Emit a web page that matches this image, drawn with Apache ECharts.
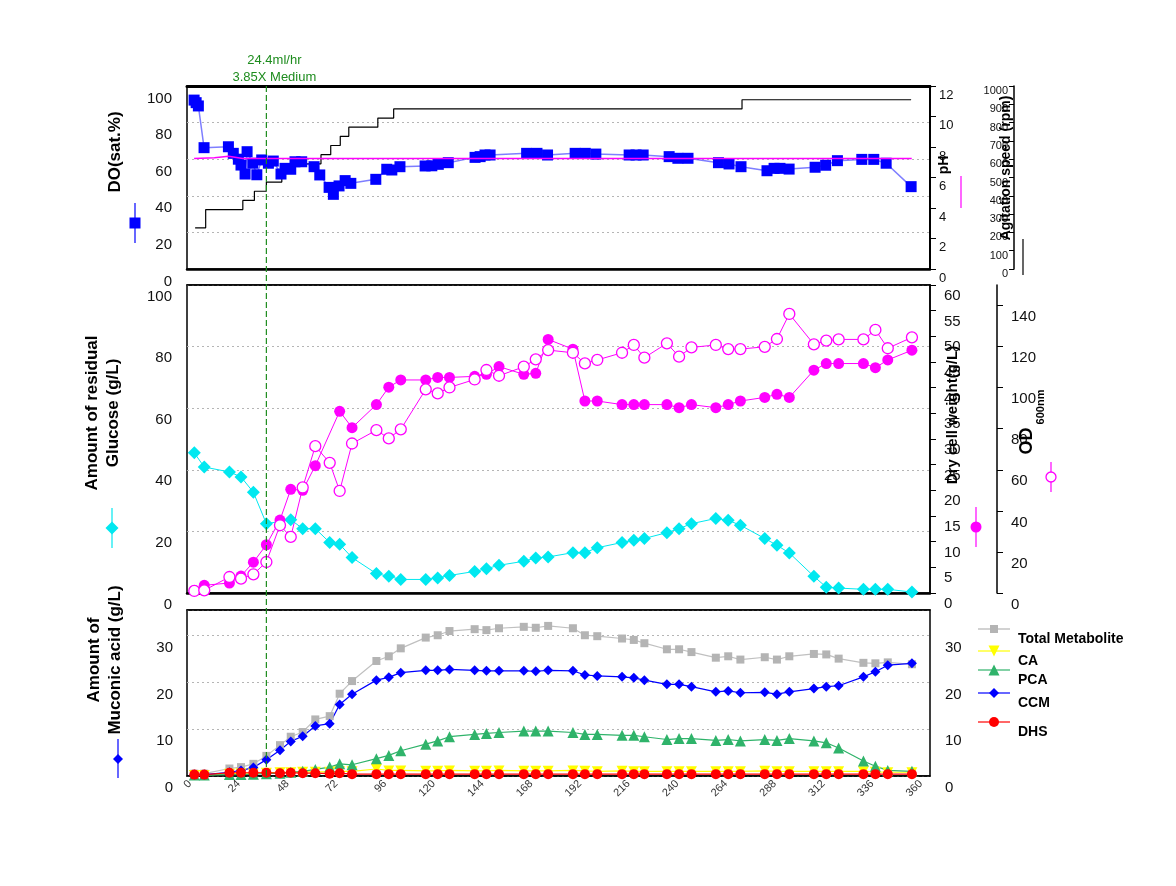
<!DOCTYPE html>
<html><head><meta charset="utf-8">
<script src="https://cdn.jsdelivr.net/npm/echarts@6/dist/echarts.min.js"></script>
<style>html,body{margin:0;padding:0;background:#fff}#c{width:1176px;height:886px}</style>
</head><body><div id="c"></div>
<script>
// ---------- DATA ----------
const xTickHours = [0,24,48,72,96,120,144,168,192,216,240,264,288,312,336,360];
const feedHour = 37.6;
const feedLabel1 = "24.4ml/hr";
const feedLabel2 = "3.85X Medium";

// online DO (sat.%)
const doTime = [2.0,3.0,4.1,6.9,18.9,21.3,23.8,25.1,27.1,28.1,30.9,32.9,35.3,38.6,41.0,44.8,46.8,49.6,51.7,55.0,61.1,63.9,68.5,70.6,73.4,76.4,79.2,91.5,96.9,99.4,103.4,115.8,119.1,122.3,127.2,140.4,142.9,145.3,147.8,165.8,170.9,176.1,189.7,194.7,199.9,216.3,219.7,223.2,236.0,240.3,245.3,260.3,265.5,271.4,284.2,287.7,290.6,295.1,307.9,313.1,318.9,330.9,336.8,342.9,355.2];
const doSat = [92.3,90.9,89.1,66.3,66.8,63.2,60.0,56.8,51.9,64.1,57.8,51.5,59.6,57.8,59.0,51.9,55.0,54.5,58.6,58.6,55.9,51.4,44.6,40.8,45.4,48.3,46.8,49.0,54.5,54.1,55.9,56.3,56.4,57.2,58.1,61.0,61.4,62.3,62.3,63.2,63.2,62.3,63.2,63.2,62.8,62.3,62.3,62.3,61.4,60.5,60.5,58.1,57.4,55.9,53.7,55.0,55.0,54.6,55.6,56.7,59.2,59.9,59.9,57.8,45.0];

// pH
const phTime = [2.0,12.0,19.0,26.0,355.5];
const phValue = [7.25,7.3,7.4,7.25,7.25];

// agitation speed (rpm), stepwise
const agitTime = [2.5,7.7,26.0,31.7,37.6,45.2,48.1,64.5,69.3,74.0,78.2,92.5,100.3,271.9,355.2];
const agitRpm = [225,325,375,425,475,525,575,625,675,725,775,825,875,925,925];

// offline samples
const sampleHours = [2.1,7.0,19.4,25.1,31.2,37.6,44.3,49.6,55.5,61.7,68.8,73.7,79.8,91.8,97.9,103.8,116.1,122.0,127.8,140.2,146.0,152.2,164.4,170.3,176.4,188.6,194.5,200.6,212.8,218.6,223.8,234.9,240.9,247.0,259.0,265.1,271.1,283.1,289.1,295.2,307.3,313.4,319.5,331.7,337.6,343.7,355.6];
const glucose = [45.5,40.9,39.3,37.7,32.7,22.5,null,23.8,20.9,20.9,16.4,15.8,11.5,6.3,5.4,4.4,4.4,4.9,5.7,7.0,7.9,9.0,10.3,11.4,11.7,13.1,13.1,14.7,16.4,17.1,17.7,19.6,20.9,22.5,24.2,23.6,22.0,17.7,15.5,13.0,5.4,1.9,1.6,1.2,1.2,1.2,0.3];
const dcw = [0.5,1.5,1.95,3.3,6.0,9.4,14.2,20.2,20.0,24.8,null,35.4,32.2,36.7,40.1,41.5,41.5,42.0,42.0,42.2,42.6,44.1,42.6,42.8,49.4,47.5,37.4,37.4,36.7,36.7,36.7,36.7,36.1,36.7,36.1,36.7,37.4,38.1,38.7,38.1,43.4,44.7,44.7,44.7,43.9,45.4,47.3];
const od600 = [1.0,1.3,7.8,7.0,9.1,15.1,33.0,27.3,51.4,71.5,63.4,49.7,72.8,79.3,75.3,79.7,99.2,97.2,100.1,104.0,108.6,105.8,110.2,113.8,118.3,117.0,111.8,113.5,117.0,120.8,114.6,121.6,115.1,119.6,120.8,118.8,118.8,119.9,123.7,135.9,121.1,122.9,123.5,123.5,128.1,119.2,124.5];
const totalMetabolite = [0.5,0.5,1.6,1.9,2.6,4.3,6.6,8.4,9.4,12.1,12.8,17.6,20.3,24.6,25.6,27.3,29.6,30.1,31.0,31.4,31.2,31.6,31.9,31.7,32.1,31.6,30.1,29.9,29.4,29.1,28.4,27.1,27.1,26.5,25.3,25.6,24.9,25.4,24.9,25.6,26.1,26.0,25.1,24.2,24.1,24.3,23.9];
const caConc = [0.2,0.2,0.5,0.6,0.6,0.7,0.8,0.8,0.9,0.9,0.9,1.0,1.0,1.5,1.2,1.2,1.1,1.1,1.2,1.1,1.1,1.2,1.1,1.1,1.1,1.2,1.1,1.0,1.1,1.0,1.0,1.0,1.0,1.0,1.0,1.0,1.0,1.1,1.0,1.0,1.0,1.0,1.0,1.0,0.9,0.8,0.8];
const pcaConc = [0.2,0.2,0.3,0.3,0.4,0.5,0.6,0.8,1.0,1.4,1.9,2.6,2.4,3.7,4.4,5.4,6.8,7.5,8.4,8.9,9.1,9.3,9.6,9.6,9.6,9.3,8.9,8.9,8.7,8.7,8.4,7.8,8.0,8.0,7.6,7.8,7.5,7.8,7.6,8.0,7.5,7.1,6.0,3.2,2.1,1.2,1.0];
const ccmConc = [0.3,0.3,0.8,1.2,1.8,3.5,5.5,7.4,8.5,10.7,11.2,15.3,17.5,20.5,21.1,22.1,22.6,22.6,22.8,22.6,22.5,22.5,22.5,22.4,22.6,22.5,21.6,21.4,21.2,21.0,20.5,19.6,19.6,19.1,18.0,18.2,17.8,17.9,17.5,18.0,18.7,19.1,19.3,21.2,22.3,23.7,24.1];
const dhsConc = [0.3,0.3,0.7,0.7,0.7,0.7,0.6,0.7,0.6,0.6,0.5,0.6,0.4,0.4,0.4,0.4,0.4,0.4,0.4,0.4,0.4,0.4,0.4,0.4,0.4,0.4,0.4,0.4,0.4,0.4,0.4,0.4,0.4,0.4,0.4,0.4,0.4,0.4,0.4,0.4,0.4,0.4,0.4,0.4,0.4,0.4,0.4];

const metaboliteNames = ["Total Metabolite","CA","PCA","CCM","DHS"];

// ---------- CHART ----------
const FONT = "'Liberation Sans', Arial, sans-serif";
const zip = (xs, ys) => xs.map((x, i) => [x, ys[i]]);
const X_MIN = -1.5, X_MAX = 364.5;
const grids = [
  {left:187, top:86, width:743, height:183},
  {left:187, top:285, width:743, height:308},
  {left:187, top:610, width:743, height:166}
].map(g => Object.assign({show:true, borderColor:'#000', borderWidth:1.5, containLabel:false}, g));

const dotted = {show:true, lineStyle:{color:'#b5b5b5', type:[2,3], width:1}};
const noLine = {show:false, onZero:false};
const plain = v => String(v);
function lab(size, lh, extra){ return Object.assign({fontFamily:FONT, fontSize:size, color:'#111', verticalAlign:'top', lineHeight:lh, formatter:plain}, extra||{}); }
function axLine(w){ return {show:true, onZero:false, lineStyle:{color:'#000', width:w}}; }
function xAx(gi, extra){
  return Object.assign({type:'value', gridIndex:gi, min:X_MIN, max:X_MAX,
    axisLine:axLine(2.5), axisTick:{show:false}, axisLabel:{show:false}, splitLine:{show:false}}, extra||{});
}

const option = {
  animation:false,
  backgroundColor:'#fff',
  textStyle:{fontFamily:FONT},
  grid: grids,
  xAxis: [
    xAx(0), xAx(1),
    xAx(2, {axisLine:axLine(1.5),
      axisLabel:{show:true, customValues:xTickHours, rotate:45, fontSize:11, color:'#333', margin:6, fontFamily:FONT, formatter:plain}}),
    xAx(0, {position:'top', axisLine:axLine(3)}),
    xAx(1, {position:'top', axisLine:axLine(1.5)}),
    xAx(2, {position:'top', axisLine:axLine(1.5)})
  ],
  yAxis: [
    {type:'value', gridIndex:0, position:'left', min:0, max:100, interval:20,
      axisLine:noLine, axisTick:{show:false}, splitLine:dotted, axisLabel:lab(15, 25, {margin:15})},
    {type:'value', gridIndex:0, position:'right', min:0, max:12, interval:2,
      axisLine:axLine(2), axisTick:{show:true, length:6, lineStyle:{color:'#000'}},
      splitLine:{show:false}, axisLabel:lab(13, 18, {margin:9})},
    {type:'value', gridIndex:0, position:'right', offset:84, min:0, max:1000, interval:100,
      axisLine:axLine(1.5), axisTick:{show:true, inside:true, length:5, lineStyle:{color:'#000'}},
      splitLine:{show:false}, axisLabel:lab(11, 10, {inside:true, margin:6})},
    {type:'value', gridIndex:1, position:'left', min:0, max:100, interval:20,
      axisLine:noLine, axisTick:{show:false}, splitLine:dotted, axisLabel:lab(15, 23, {margin:15})},
    {type:'value', gridIndex:1, position:'right', min:0, max:60, interval:5,
      axisLine:axLine(1.5), axisTick:{show:true, length:6, lineStyle:{color:'#000'}},
      splitLine:{show:false}, axisLabel:lab(15, 22, {margin:14})},
    {type:'value', gridIndex:1, position:'right', offset:67, min:0, max:150,
      axisLine:axLine(1.5),
      axisTick:{show:true, length:6, customValues:[0,20,40,60,80,100,120,140], lineStyle:{color:'#000'}},
      splitLine:{show:false}, axisLabel:lab(15, 23, {margin:14, customValues:[0,20,40,60,80,100,120,140]})},
    {type:'value', gridIndex:2, position:'left', min:0, max:35.5, interval:10,
      axisLine:noLine, axisTick:{show:false}, splitLine:dotted, axisLabel:lab(15, 24, {margin:14, customValues:[0,10,20,30]})},
    {type:'value', gridIndex:2, position:'right', min:0, max:35.5, interval:10,
      axisLine:noLine, axisTick:{show:false}, splitLine:{show:false}, axisLabel:lab(15, 24, {margin:15, customValues:[0,10,20,30]})}
  ],
  series: [
    {name:'DO', type:'line', xAxisIndex:0, yAxisIndex:0, data:zip(doTime, doSat),
      symbol:'rect', symbolSize:11, itemStyle:{color:'#0000ff'}, lineStyle:{color:'rgba(40,40,255,0.6)', width:1.5}, z:3},
    {name:'pH', type:'line', xAxisIndex:0, yAxisIndex:1, data:zip(phTime, phValue),
      showSymbol:false, symbol:'none', lineStyle:{color:'#ff00ff', width:1.5}, itemStyle:{color:'#ff00ff'}, z:4},
    {name:'Agitation', type:'line', step:'end', xAxisIndex:0, yAxisIndex:2, data:zip(agitTime, agitRpm),
      symbol:'none', lineStyle:{color:'#000', width:1.2}, itemStyle:{color:'#000'}, z:2},
    {name:'Glucose', type:'line', xAxisIndex:1, yAxisIndex:3, data:zip(sampleHours, glucose), connectNulls:true,
      symbol:'diamond', symbolSize:13, itemStyle:{color:'#00e8f0'}, lineStyle:{color:'#00e8f0', width:1}},
    {name:'DCW', type:'line', xAxisIndex:1, yAxisIndex:4, data:zip(sampleHours, dcw), connectNulls:true,
      symbol:'circle', symbolSize:11, itemStyle:{color:'#ff00ff'}, lineStyle:{color:'#ff00ff', width:1}},
    {name:'OD600', type:'line', xAxisIndex:1, yAxisIndex:5, data:zip(sampleHours, od600),
      symbol:'circle', symbolSize:11, itemStyle:{color:'#fff', borderColor:'#ff00ff', borderWidth:1.3}, lineStyle:{color:'#ff00ff', width:1}},
    {name:metaboliteNames[0], type:'line', xAxisIndex:2, yAxisIndex:6, data:zip(sampleHours, totalMetabolite),
      symbol:'rect', symbolSize:8, itemStyle:{color:'#b4b4b4'}, lineStyle:{color:'#c0c0c0', width:1.2}},
    {name:metaboliteNames[1], type:'line', xAxisIndex:2, yAxisIndex:6, data:zip(sampleHours, caConc),
      symbol:'path://M0,0L10,0L5,9Z', symbolSize:[11,10], itemStyle:{color:'#ffff00'}, lineStyle:{color:'#ffff00', width:1.2}},
    {name:metaboliteNames[2], type:'line', xAxisIndex:2, yAxisIndex:6, data:zip(sampleHours, pcaConc),
      symbol:'triangle', symbolSize:11, itemStyle:{color:'#2fb36a'}, lineStyle:{color:'#2fb36a', width:1.2}},
    {name:metaboliteNames[3], type:'line', xAxisIndex:2, yAxisIndex:6, data:zip(sampleHours, ccmConc),
      symbol:'diamond', symbolSize:10, itemStyle:{color:'#0000ff'}, lineStyle:{color:'#0000ff', width:1.2}},
    {name:metaboliteNames[4], type:'line', xAxisIndex:2, yAxisIndex:6, data:zip(sampleHours, dhsConc),
      symbol:'circle', symbolSize:10, itemStyle:{color:'#ff0000'}, lineStyle:{color:'#ff0000', width:1.2}}
  ]
};

const chart = echarts.init(document.getElementById('c'), null, {renderer:'canvas'});
chart.setOption(option);

// ---------- decorations: titles, legend icons, feed annotation ----------
function sym(shape, cx, cy, s, fill, stroke){
  const st = {fill:fill, stroke:stroke||null, lineWidth:stroke?1.3:0};
  if (shape === 'rect') return {type:'rect', shape:{x:cx-s/2, y:cy-s/2, width:s, height:s}, style:st, z:100};
  if (shape === 'circle') return {type:'circle', shape:{cx:cx, cy:cy, r:s/2}, style:st, z:100};
  let pts;
  if (shape === 'diamond') pts = [[cx,cy-s/2],[cx+s/2,cy],[cx,cy+s/2],[cx-s/2,cy]];
  if (shape === 'tri') pts = [[cx,cy-s/2],[cx+s/2,cy+s/2],[cx-s/2,cy+s/2]];
  if (shape === 'dtri') pts = [[cx-s/2,cy-s/2],[cx+s/2,cy-s/2],[cx,cy+s/2]];
  return {type:'polygon', shape:{points:pts}, style:st, z:100};
}
function ln(x1, y1, x2, y2, color, w, dash){
  return {type:'line', shape:{x1:x1, y1:y1, x2:x2, y2:y2}, style:{stroke:color, lineWidth:w||1.2, lineDash:dash||null}, z:100};
}
function txt(text, x, y, font, rot, color, align){
  return {type:'text', x:x, y:y, rotation:rot||0, z:100,
    style:{text:text, font:font, fill:color||'#000', align:align||'center', verticalAlign:'middle',
           textAlign:align||'center', textVerticalAlign:'middle', lineHeight:21}};
}
const R = Math.PI/2;
const B17 = "bold 17px 'Liberation Sans', Arial, sans-serif";
const B15 = "bold 15px 'Liberation Sans', Arial, sans-serif";
const B14 = "bold 14px 'Liberation Sans', Arial, sans-serif";
const fx = chart.convertToPixel({xAxisIndex:0}, feedHour);

const g = [
  // feed line through all panels
  ln(fx, 86, fx, 776, '#1e8c1e', 1.2, [6,3]),
  txt(feedLabel1, fx+8, 60, "13px 'Liberation Sans', Arial, sans-serif", 0, '#1e8c1e'),
  txt(feedLabel2, fx+8, 77, "13px 'Liberation Sans', Arial, sans-serif", 0, '#1e8c1e'),
  // left titles
  txt("DO(sat.%)", 115, 152, B17, R),
  txt("Amount of residual\nGlucose (g/L)", 103, 413, B17, R),
  txt("Amount of\nMuconic acid (g/L)", 105, 660, B17, R),
  // right titles
  txt("pH", 944, 165, B14, R),
  txt("Agitation speed (rpm)", 1006, 168, B14, R),
  txt("Dry cell weight(g/L)", 953, 415, B15, R),
  txt("OD", 1027, 441, "bold 18px 'Liberation Sans', Arial, sans-serif", R),
  txt("600nm", 1041, 407, "bold 11px 'Liberation Sans', Arial, sans-serif", R),
  // side legend icons
  ln(135, 203, 135, 243, '#0000ff', 1.2), sym('rect', 135, 223, 11, '#0000ff'),
  ln(112, 508, 112, 548, '#00e8f0', 1.2), sym('diamond', 112, 528, 13, '#00e8f0'),
  ln(118, 739, 118, 778, '#0000ff', 1.2), sym('diamond', 118, 759, 10, '#0000ff'),
  ln(976, 507, 976, 547, '#ff00ff', 1.2), sym('circle', 976, 527, 11, '#ff00ff'),
  ln(1051, 462, 1051, 492, '#ff00ff', 1.2), sym('circle', 1051, 477, 10, '#fff', '#ff00ff'),
  ln(961, 176, 961, 208, '#ff00ff', 1.2),
  ln(1023, 239, 1023, 275, '#000', 1.2)
];
// bottom legend
const legY = [629, 651, 670, 693, 722];
const legSym = [['rect',8,'#b4b4b4'],['dtri',11,'#ffff00'],['tri',11,'#2fb36a'],['diamond',10,'#0000ff'],['circle',10,'#ff0000']];
metaboliteNames.forEach((n, i) => {
  const y = legY[i];
  g.push(ln(978, y, 1010, y, legSym[i][2], 1.2));
  g.push(sym(legSym[i][0], 994, y, legSym[i][1], legSym[i][2]));
  g.push(txt(n, 1018, y+10, B14, 0, '#000', 'left'));
});
chart.setOption({graphic:{elements:g}});
</script>
</body></html>
